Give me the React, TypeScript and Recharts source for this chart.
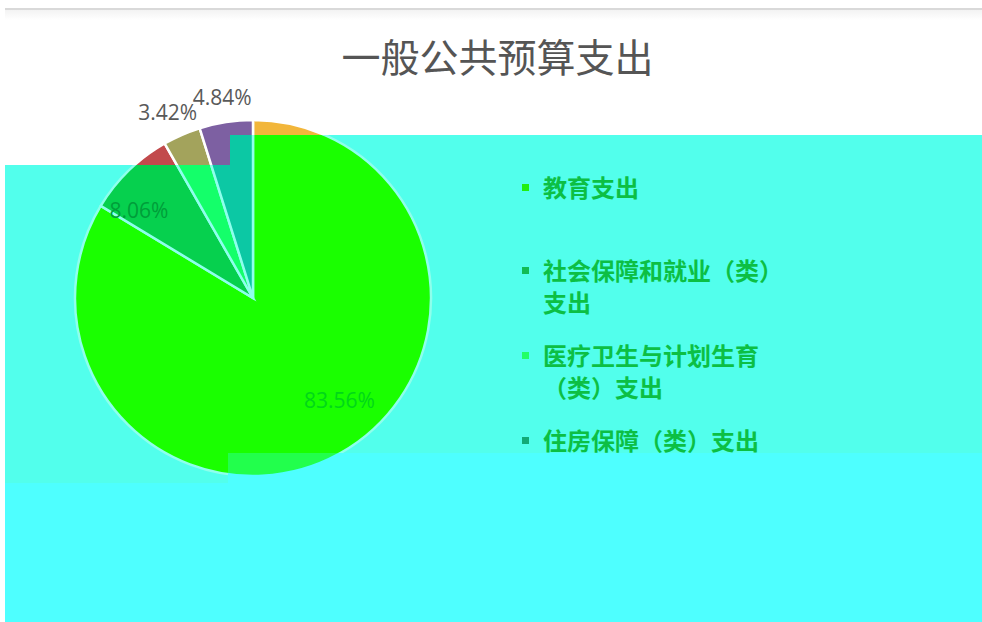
import { PieChart, Pie, Cell, Legend } from "recharts";

const title = "一般公共预算支出";
const categories = [
  "教育支出",
  "社会保障和就业（类）支出",
  "医疗卫生与计划生育（类）支出",
  "住房保障（类）支出",
];
const shares = [83.56, 8.06, 3.42, 4.84];
const shareLabels = ["83.56%", "8.06%", "3.42%", "4.84%"];

const data = categories.map((name, i) => ({ name, value: shares[i], label: shareLabels[i] }));

const W = 982;
const H = 622;
const CX = 253;
const CY = 298;
const R = 178;

// label placement: fraction of radius, plus a small angle nudge (deg)
const LABEL_RADIUS = [0.75, 0.81, 1.15, 1.14];
const LABEL_SHIFT = [11, 8, 1, 0];
const LEGEND_ROW_TOPS = [0, 83, 168, 253];
const CJK = '"Noto Sans CJK SC", "Noto Sans", sans-serif';

type Layer = {
  key: string;
  bg: string;
  clip: string;
  slices: string[];
  stroke: string;
  labelColors: string[];
  legend?: { markers: string[]; text: string };
};

// the picture is split in three colour bands, each drawn from the same pie
const LAYERS: Layer[] = [
  {
    key: "top",
    bg: "transparent",
    clip: "polygon(5px 0px, 982px 0px, 982px 135px, 230px 135px, 230px 165px, 5px 165px)",
    slices: ["#f2b63a", "#c24a4c", "#a3a35c", "#7d60a2"],
    stroke: "#ffffff",
    labelColors: ["#595959", "#595959", "#595959", "#595959"],
  },
  {
    key: "mid",
    bg: "#52ffec",
    clip:
      "polygon(5px 165px, 230px 165px, 230px 135px, 982px 135px, 982px 453px, 228px 453px, 228px 483px, 5px 483px)",
    slices: ["#1aff00", "#06d04e", "#14ff6a", "#0cc8a4"],
    stroke: "#8effec",
    labelColors: ["#00d818", "#009e3a", "#009e3a", "#009e3a"],
    legend: { markers: ["#22ee11", "#12bb55", "#22ff66", "#12aa77"], text: "#0cbf44" },
  },
  {
    key: "low",
    bg: "#4effff",
    clip: "polygon(5px 483px, 228px 483px, 228px 453px, 982px 453px, 982px 622px, 5px 622px)",
    slices: ["#22ff4c", "#06d04e", "#14ff6a", "#0cc8a4"],
    stroke: "#4effff",
    labelColors: ["#00d818", "#009e3a", "#009e3a", "#009e3a"],
  },
];

function makeLabel(layer: Layer) {
  return (props: any) => {
    const { cx, cy, midAngle, outerRadius, index } = props;
    const a = ((midAngle + LABEL_SHIFT[index]) * Math.PI) / 180;
    const r = outerRadius * LABEL_RADIUS[index];
    const x = cx + r * Math.cos(a);
    const y = cy - r * Math.sin(a);
    return (
      <text
        x={x}
        y={y}
        textAnchor="middle"
        dominantBaseline="central"
        fill={layer.labelColors[index]}
        fontSize={21}
        fontFamily='"Open Sans", sans-serif'
      >
        {data[index].label}
      </text>
    );
  };
}

function LegendBox({ markers, text }: { markers: string[]; text: string }) {
  return (
    <div style={{ position: "relative", width: 290, height: 300 }}>
      {data.map((d, i) => (
        <div
          key={d.name}
          style={{ position: "absolute", left: 0, top: LEGEND_ROW_TOPS[i], width: 280 }}
        >
          <div
            style={{
              position: "absolute",
              left: 2,
              top: 13,
              width: 7,
              height: 7,
              backgroundColor: markers[i],
            }}
          />
          <div
            style={{
              paddingLeft: 23,
              width: 251,
              fontFamily: CJK,
              fontSize: 24,
              lineHeight: "32px",
              fontWeight: 700,
              color: text,
            }}
          >
            {d.name}
          </div>
        </div>
      ))}
    </div>
  );
}

function PieLayer({ layer }: { layer: Layer }) {
  return (
    <div
      style={{
        position: "absolute",
        left: 0,
        top: 0,
        width: W,
        height: H,
        background: layer.bg,
        clipPath: layer.clip,
      }}
    >
      <PieChart width={W} height={H} margin={{ top: 0, right: 0, bottom: 0, left: 0 }}>
        <Pie
          data={data}
          dataKey="value"
          nameKey="name"
          cx={CX}
          cy={CY}
          outerRadius={R}
          startAngle={90}
          endAngle={-270}
          stroke={layer.stroke}
          strokeWidth={2.5}
          label={makeLabel(layer)}
          labelLine={false}
          isAnimationActive={false}
        >
          {data.map((d, i) => (
            <Cell key={d.name} fill={layer.slices[i]} />
          ))}
        </Pie>
        {layer.legend && (
          <Legend
            layout="vertical"
            verticalAlign="top"
            align="right"
            wrapperStyle={{ left: 520, top: 171, width: 290 }}
            content={() => <LegendBox markers={layer.legend!.markers} text={layer.legend!.text} />}
          />
        )}
      </PieChart>
    </div>
  );
}

export default function App() {
  return (
    <div
      style={{
        position: "absolute",
        left: 0,
        top: 0,
        width: W,
        height: H,
        background: "#ffffff",
        overflow: "hidden",
        fontFamily: CJK,
      }}
    >
      {LAYERS.map((layer) => (
        <PieLayer key={layer.key} layer={layer} />
      ))}

      {/* card edge */}
      <div
        style={{
          position: "absolute",
          left: 5,
          top: 8,
          width: W - 5,
          height: 10,
          borderTop: "2px solid #d9d9d9",
          background: "linear-gradient(#f3f3f3, rgba(255,255,255,0))",
        }}
      />

      {/* title */}
      <div
        style={{
          position: "absolute",
          left: 9,
          top: 32,
          width: W - 5,
          textAlign: "center",
          fontSize: 39,
          lineHeight: "46px",
          color: "#555555",
          fontFamily: CJK,
        }}
      >
        {title}
      </div>
    </div>
  );
}
